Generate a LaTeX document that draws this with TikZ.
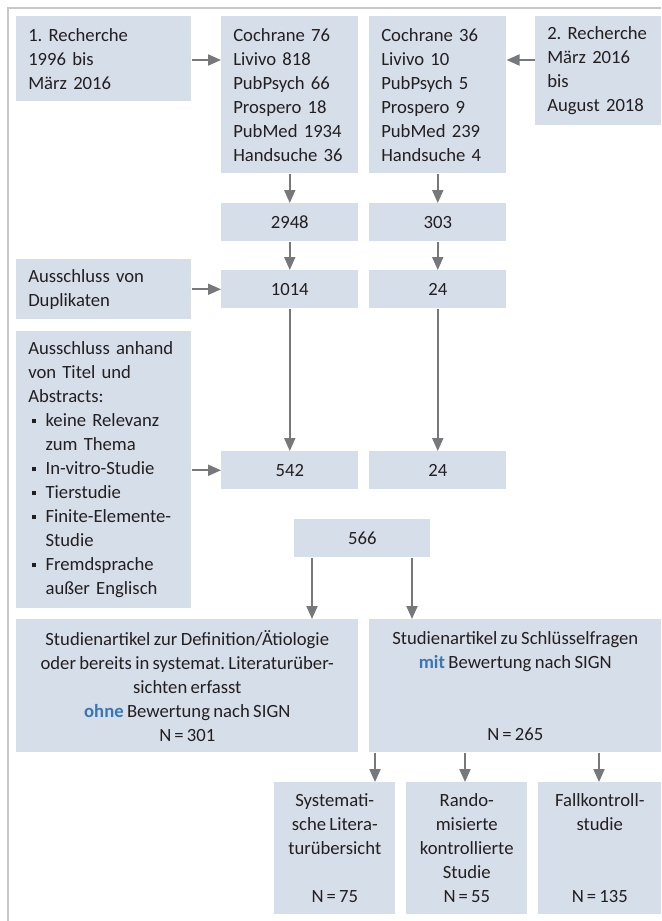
\documentclass[tikz,border=0pt]{standalone}
\usepackage{fontspec}
\setmainfont{Carlito}[WordSpace=0.8]
\usetikzlibrary{arrows.meta,calc}
\definecolor{boxfill}{HTML}{D6DEEA}
\definecolor{arrgray}{HTML}{77787C}
\definecolor{framegray}{HTML}{C8C8C8}
\definecolor{txt}{HTML}{231F20}
\definecolor{hlblue}{HTML}{3A77B0}
\newcommand{\sqb}{\makebox[13pt][l]{\hspace{2.5pt}\rule[2.4pt]{3.2pt}{3.2pt}}}
\newcommand{\ind}{\hspace*{13pt}}
\frenchspacing
\hyphenpenalty=10000\relax
\begin{document}
\begin{tikzpicture}[x=0.75pt,y=-0.75pt,
  every node/.style={font=\fontsize{14}{18}\selectfont, text=txt},
  boxl/.style={fill=boxfill, anchor=north west, align=left, inner xsep=9pt, inner ysep=0pt},
  boxc/.style={fill=boxfill, anchor=north west, align=center, inner sep=0pt},
  arr/.style={draw=arrgray, line width=1.5pt, -{Triangle[length=9.75pt,width=8.25pt]}}
]
\useasboundingbox (0,0) rectangle (661,921);
\draw[framegray, line width=1.5pt] (8,921) -- (8,8) -- (661,8);

% row 1
\node[boxl, text width=113.25pt, minimum height=63.75pt] (r1) at (16,16)
  {1.~Recherche\\1996~bis\\März~2016};
\node[boxl, text width=84.75pt, minimum height=117.75pt] (c1) at (221,16)
  {Cochrane~76\\Livivo~818\\PubPsych~66\\Prospero~18\\PubMed~1934\\Handsuche~36};
\node[boxl, text width=84.75pt, minimum height=117.75pt] (c2) at (369,16)
  {Cochrane~36\\Livivo~10\\PubPsych~5\\Prospero~9\\PubMed~239\\Handsuche~4};
\node[boxl, text width=76.5pt, minimum height=81.75pt] (r2) at (535,16)
  {2.~Recherche\\März~2016\\bis\\August~2018};

% counts
\node[boxc, minimum width=102.75pt, minimum height=28.5pt] (n2948) at (221,203) {2948};
\node[boxc, minimum width=102.75pt, minimum height=28.5pt] (n303) at (369,203) {303};

\node[boxl, text width=113.25pt, minimum height=45pt] (dup) at (16,259)
  {Ausschluss~von\\Duplikaten};
\node[boxc, minimum width=102.75pt, minimum height=28.5pt] (n1014) at (221,270) {1014};
\node[boxc, minimum width=102.75pt, minimum height=28.5pt] (n24a) at (369,270) {24};

\node[boxl, text width=113.25pt, minimum height=207.75pt] (abs) at (16,331)
  {Ausschluss~anhand\\von~Titel~und\\Abstracts:\\
   \sqb keine~Relevanz\\\ind zum~Thema\\
   \sqb In-vitro-Studie\\
   \sqb Tierstudie\\
   \sqb Finite-Elemente-\\\ind Studie\\
   \sqb Fremdsprache\\\ind außer~Englisch};
\node[boxc, minimum width=102.75pt, minimum height=28.5pt] (n542) at (221,451) {542};
\node[boxc, minimum width=102.75pt, minimum height=28.5pt] (n24b) at (369,451) {24};

\node[boxc, minimum width=102pt, minimum height=28.5pt] (n566) at (294,519) {566};

% big boxes
\node[boxc, minimum width=256.5pt, minimum height=99.75pt] (big1) at (16,619)
  {Studienartikel zur Definition/Ätiologie\\oder bereits in systemat. Literaturüber-\\sichten erfasst\\
   {\bfseries\color{hlblue}ohne} Bewertung nach SIGN\\N\,=\,301};
\node[boxc, minimum width=219pt, minimum height=99.75pt] (big2) at (369,619)
  {Studienartikel zu Schlüsselfragen\\{\bfseries\color{hlblue}mit} Bewertung nach SIGN\\~\\~\\N\,=\,265};

% bottom boxes
\node[boxc, minimum width=90.75pt, minimum height=99pt] (bA) at (274,782)
  {Systemati-\\sche Litera-\\turübersicht\\~\\N\,=\,75};
\node[boxc, minimum width=90.75pt, minimum height=99pt] (bB) at (406,782)
  {Rando-\\misierte\\kontrollierte\\Studie\\N\,=\,55};
\node[boxc, minimum width=92.25pt, minimum height=99pt] (bC) at (538,782)
  {Fallkontroll-\\studie\\~\\~\\N\,=\,135};

% arrows
\draw[arr] (r1.east |- 0,60) -- (c1.west |- 0,60);
\draw[arr] (r2.west |- 0,60) -- (c2.east |- 0,60);
\draw[arr] (c1.south) -- (n2948.north);
\draw[arr] (c2.south) -- (n303.north);
\draw[arr] (n2948.south) -- (n1014.north);
\draw[arr] (n303.south) -- (n24a.north);
\draw[arr] (dup.east) -- (n1014.west);
\draw[arr] (n1014.south) -- (n542.north);
\draw[arr] (n24a.south) -- (n24b.north);
\draw[arr] (abs.east |- n542.west) -- (n542.west);
\draw[arr] (n566.south -| 312,0) -- (big1.north -| 312,0);
\draw[arr] (n566.south -| 412,0) -- (big2.north -| 412,0);
\draw[arr] (big2.south -| 375,0) -- (bA.north -| 375,0);
\draw[arr] (big2.south -| 465,0) -- (bB.north -| 465,0);
\draw[arr] (big2.south -| 599,0) -- (bC.north -| 599,0);
\end{tikzpicture}
\end{document}
